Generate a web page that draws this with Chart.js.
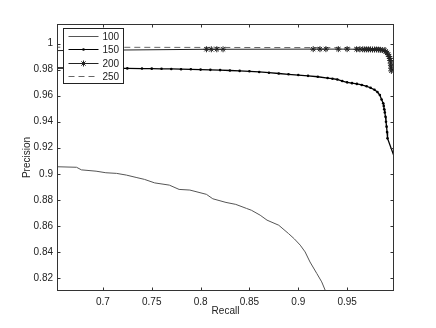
<!DOCTYPE html>
<html>
<head>
<meta charset="utf-8">
<script src="https://cdn.jsdelivr.net/npm/chart.js"></script>
<style>
  html, body { margin: 0; padding: 0; background: #fff; }
  canvas { display: block; }
</style>
</head>
<body>
<canvas id="prChart" width="436" height="328"></canvas>
<script>
// series names (legend)
var seriesNames = ['100', '150', '200', '250'];

// 100 - grey solid curve
var recall100 = [0.653, 0.673, 0.678, 0.693, 0.703, 0.714, 0.724, 0.734, 0.7425, 0.753, 0.768, 0.778, 0.789, 0.806, 0.8125, 0.826, 0.836, 0.847, 0.852, 0.861, 0.868, 0.880, 0.890, 0.896, 0.902, 0.907, 0.912, 0.919, 0.924, 0.928, 0.932];
var precision100 = [0.9054, 0.905, 0.903, 0.902, 0.9008, 0.9003, 0.899, 0.8972, 0.8957, 0.893, 0.8913, 0.888, 0.8875, 0.8842, 0.8808, 0.878, 0.8765, 0.8734, 0.872, 0.8682, 0.8644, 0.8605, 0.8541, 0.850, 0.8452, 0.840, 0.8323, 0.8234, 0.817, 0.8098, 0.80];

// 150 - black with dots
var recall150 = [0.653, 0.665, 0.68, 0.695, 0.71, 0.725, 0.74, 0.75, 0.76, 0.77, 0.78, 0.79, 0.80, 0.81, 0.82, 0.83, 0.84, 0.85, 0.86, 0.87, 0.88, 0.89, 0.90, 0.91, 0.92, 0.93, 0.935, 0.94, 0.945, 0.95, 0.955, 0.96, 0.965, 0.97, 0.974, 0.978, 0.981, 0.9835, 0.9853, 0.9869, 0.9875, 0.988, 0.9886, 0.9893, 0.9898, 0.9904, 0.9909, 0.9914, 1.0];
var precision150 = [0.9812, 0.9812, 0.9811, 0.9811, 0.981, 0.9809, 0.9808, 0.9807, 0.9806, 0.9805, 0.9803, 0.9802, 0.98, 0.9798, 0.9796, 0.9793, 0.979, 0.9787, 0.9782, 0.9776, 0.977, 0.9764, 0.9758, 0.9752, 0.9745, 0.9735, 0.973, 0.9724, 0.9712, 0.9702, 0.9696, 0.969, 0.9682, 0.9672, 0.966, 0.9645, 0.9628, 0.9605, 0.957, 0.9542, 0.952, 0.9495, 0.947, 0.9438, 0.940, 0.9362, 0.932, 0.9272, 0.9094];

// 200 - solid with stars
var recall200 = [0.64, 0.806, 0.811, 0.8166, 0.823, 0.9153, 0.9222, 0.9283, 0.941, 0.950, 0.9597, 0.963, 0.966, 0.968, 0.970, 0.972, 0.974, 0.976, 0.978, 0.980, 0.982, 0.984, 0.986, 0.988, 0.9895, 0.991, 0.992, 0.993, 0.9937, 0.9942, 0.9946, 0.995, 0.9952, 0.9953];
var precision200 = [0.9945, 0.9956, 0.9956, 0.9956, 0.9956, 0.9957, 0.9957, 0.9957, 0.9957, 0.9957, 0.9956, 0.9956, 0.9956, 0.9955, 0.9955, 0.9955, 0.9955, 0.9954, 0.9954, 0.9954, 0.9953, 0.9952, 0.995, 0.9946, 0.994, 0.9928, 0.9915, 0.99, 0.9885, 0.987, 0.985, 0.983, 0.981, 0.979];

// 250 - dashed
var recall250 = [0.64, 0.99];
var precision250 = [0.9972, 0.9968];

// axes
var xTicks = [0.7, 0.75, 0.8, 0.85, 0.9, 0.95];
var yTicks = [0.82, 0.84, 0.86, 0.88, 0.9, 0.92, 0.94, 0.96, 0.98, 1];
var xMin = 0.653, xMax = 0.998;
var yMin = 0.81, yMax = 1.015;

function pts(xs, ys) {
    return xs.map(function (x, i) { return {x: x, y: ys[i]}; });
}

var FONT = '"Liberation Sans", Arial, Helvetica, sans-serif';
var INK = '#222';

function drawStar(ctx, x, y, r) {
    ctx.beginPath();
    for (var k = 0; k < 4; k++) {
        var a = k * Math.PI / 4;
        ctx.moveTo(x - r * Math.cos(a), y - r * Math.sin(a));
        ctx.lineTo(x + r * Math.cos(a), y + r * Math.sin(a));
    }
    ctx.stroke();
}

// box round the plot, inward ticks, legend
var matlabFrame = {
    id: 'matlabFrame',
    afterDraw: function (chart) {
        var ctx = chart.ctx, a = chart.chartArea;
        var sx = chart.scales.x, sy = chart.scales.y;
        ctx.save();
        ctx.strokeStyle = '#333';
        ctx.lineWidth = 1;
        ctx.setLineDash([]);
        var L = Math.round(a.left) + 0.5, R = Math.round(a.right) - 0.5;
        var T = Math.round(a.top) + 0.5, B = Math.round(a.bottom) - 0.5;
        ctx.strokeRect(L, T, R - L, B - T);

        ctx.beginPath();
        xTicks.forEach(function (v) {
            var px = Math.round(sx.getPixelForValue(v)) + 0.5;
            ctx.moveTo(px, B); ctx.lineTo(px, B - 3);
            ctx.moveTo(px, T); ctx.lineTo(px, T + 3);
        });
        yTicks.forEach(function (v) {
            var py = Math.round(sy.getPixelForValue(v)) + 0.5;
            ctx.moveTo(L, py); ctx.lineTo(L + 3, py);
            ctx.moveTo(R, py); ctx.lineTo(R - 3, py);
        });
        ctx.stroke();

        // legend
        var lx = L + 6, ly = T + 4, lw = 60, lh = 55;
        ctx.fillStyle = '#fff';
        ctx.fillRect(lx, ly, lw, lh);
        ctx.strokeStyle = '#222';
        ctx.strokeRect(lx, ly, lw, lh);

        var styles = [
            {color: '#555', dash: []},
            {color: '#000', dash: []},
            {color: '#222', dash: []},
            {color: '#666', dash: [6, 4]}
        ];
        ctx.font = '10px ' + FONT;
        ctx.textBaseline = 'middle';
        seriesNames.forEach(function (name, i) {
            var yy = Math.round(ly + 7 + i * 13.5) + 0.5;
            var x0 = lx + 5, x1 = lx + 35;
            ctx.strokeStyle = styles[i].color;
            ctx.setLineDash(styles[i].dash);
            ctx.beginPath();
            ctx.moveTo(x0, yy); ctx.lineTo(x1, yy);
            ctx.stroke();
            ctx.setLineDash([]);
            var mx = (x0 + x1) / 2;
            if (i === 1) {
                ctx.fillStyle = '#000';
                ctx.beginPath(); ctx.arc(mx, yy, 1.3, 0, Math.PI * 2); ctx.fill();
            }
            if (i === 2) {
                ctx.strokeStyle = '#222';
                drawStar(ctx, mx, yy, 3);
            }
            ctx.fillStyle = INK;
            ctx.fillText(name, lx + 39, yy + 0.5);
        });
        ctx.restore();
    }
};

var chart = new Chart(document.getElementById('prChart'), {
    type: 'scatter',
    data: {
        datasets: [
            {
                label: seriesNames[0],
                data: pts(recall100, precision100),
                showLine: true,
                borderColor: '#555',
                borderWidth: 1,
                pointRadius: 0
            },
            {
                label: seriesNames[1],
                data: pts(recall150, precision150),
                showLine: true,
                borderColor: '#000',
                borderWidth: 1.3,
                pointRadius: 1.3,
                pointBackgroundColor: '#000',
                pointBorderColor: '#000',
                pointBorderWidth: 0
            },
            {
                label: seriesNames[2],
                data: pts(recall200, precision200),
                showLine: true,
                borderColor: '#222',
                borderWidth: 1,
                pointStyle: 'star',
                pointRadius: 3,
                pointBorderColor: '#222',
                pointBorderWidth: 1
            },
            {
                label: seriesNames[3],
                data: pts(recall250, precision250),
                showLine: true,
                borderColor: '#666',
                borderWidth: 1,
                borderDash: [6, 4],
                pointRadius: 0
            }
        ]
    },
    options: {
        responsive: false,
        animation: false,
        events: [],
        layout: { padding: { left: 0, right: 42, top: 24, bottom: 0 } },
        plugins: {
            legend: { display: false },
            tooltip: { enabled: false }
        },
        scales: {
            x: {
                type: 'linear',
                min: xMin,
                max: xMax,
                afterBuildTicks: function (scale) {
                    scale.ticks = xTicks.map(function (v) { return {value: v}; });
                },
                afterFit: function (scale) { scale.height = 37; },
                grid: { display: true, drawOnChartArea: false, drawTicks: false },
                border: { display: false },
                ticks: {
                    padding: 5,
                    color: INK,
                    font: { family: FONT, size: 10 },
                    callback: function (v) { return String(v); }
                },
                title: {
                    display: true,
                    text: 'Recall',
                    color: INK,
                    font: { family: FONT, size: 10 },
                    padding: { top: 0, bottom: 11 }
                }
            },
            y: {
                type: 'linear',
                min: yMin,
                max: yMax,
                afterBuildTicks: function (scale) {
                    scale.ticks = yTicks.map(function (v) { return {value: v}; });
                },
                afterFit: function (scale) { scale.width = 57; },
                grid: { display: true, drawOnChartArea: false, drawTicks: false },
                border: { display: false },
                ticks: {
                    padding: 4,
                    color: INK,
                    font: { family: FONT, size: 10 },
                    callback: function (v) { return String(v); }
                },
                title: {
                    display: true,
                    text: 'Precision',
                    color: INK,
                    font: { family: FONT, size: 10 },
                    padding: { top: 21, bottom: 0 }
                }
            }
        }
    },
    plugins: [matlabFrame]
});
</script>
</body>
</html>
